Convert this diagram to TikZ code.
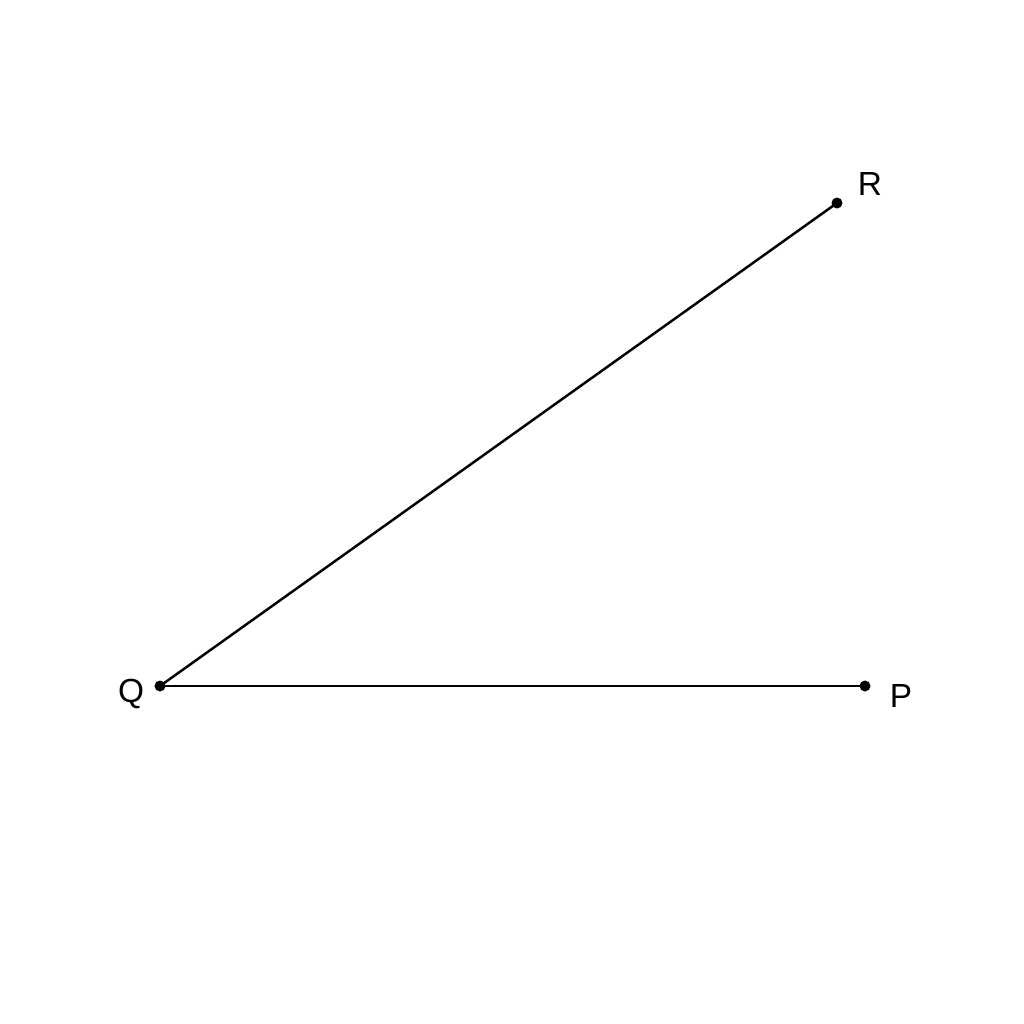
\documentclass[tikz,border=0pt]{standalone}
\usepackage{fontspec}
\setmainfont{Liberation Sans}
\begin{document}
\begin{tikzpicture}[x=0.01cm,y=-0.01cm]
\tikzstyle{every node}+=[inner sep=0pt]
\tikzstyle{pt}=[circle,fill=black,minimum size=0.11cm]
\tikzstyle{lbl}=[font=\fontsize{9.5}{11}\selectfont]
\useasboundingbox (0,0) rectangle (1024,1024);
\node [pt] (Q) at (160,686) {};
\node [pt] (P) at (865,686) {};
\node [pt] (R) at (837,203) {};
\draw [black, line width=0.7pt] (Q.center) -- (P.center);
\draw [black, line width=0.7pt] (Q.center) -- (R.center);
\node [lbl] (Qlbl) at (131,694) {Q};
\node [lbl] (Plbl) at (901,696) {P};
\node [lbl] (Rlbl) at (870,184) {R};
\end{tikzpicture}
\end{document}
